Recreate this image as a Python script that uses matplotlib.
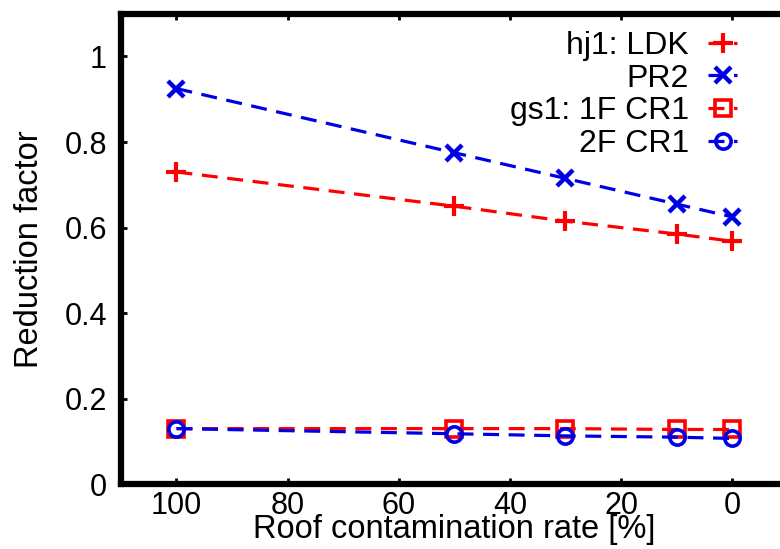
import matplotlib.pyplot as plt

plt.rcParams['font.family'] = ['Liberation Sans', 'DejaVu Sans']

rate = [100, 50, 30, 10, 0]
ldk = [0.730, 0.650, 0.615, 0.585, 0.568]
pr2 = [0.925, 0.775, 0.715, 0.655, 0.625]
cr1_1f = [0.130, 0.130, 0.130, 0.128, 0.128]
cr1_2f = [0.130, 0.118, 0.113, 0.110, 0.107]

labels = ['hj1: LDK', 'PR2', 'gs1: 1F CR1', '2F CR1']

red = '#ff0000'
blue = '#0000e6'
dash = (0, (5, 3))

fig = plt.figure(figsize=(7.8, 5.49), dpi=100)
ax = fig.add_axes([0.155, 0.118, 0.855, 0.857])

ax.plot(rate, ldk, color=red, ls=dash, lw=2.3, marker='+', ms=14, mew=3, label=labels[0])
ax.plot(rate, pr2, color=blue, ls=dash, lw=2.3, marker='x', ms=12, mew=3.2, label=labels[1])
ax.plot(rate, cr1_1f, color=red, ls=dash, lw=2.3, marker='s', ms=11, mew=2.6,
        mfc='none', label=labels[2])
ax.plot(rate, cr1_2f, color=blue, ls=dash, lw=2.3, marker='o', ms=11, mew=2.6,
        mfc='none', label=labels[3])

ax.set_xlim(110, -10)
ax.set_ylim(0, 1.1)
ax.set_xticks([100, 80, 60, 40, 20, 0])
ax.set_yticks([0, 0.2, 0.4, 0.6, 0.8, 1])
ax.set_yticklabels(['0', '0.2', '0.4', '0.6', '0.8', '1'])

for s in ax.spines.values():
    s.set_linewidth(4.5)
ax.tick_params(direction='in', length=4, width=2, top=True, right=True,
               labelsize=22)
ax.tick_params(axis='x', pad=5)
ax.tick_params(axis='y', pad=10)

ax.set_xlabel('Roof contamination rate [%]', fontsize=23.5, labelpad=-5)
ax.set_ylabel('Reduction factor', fontsize=23.5, labelpad=14)

ax.legend(loc='upper right', bbox_to_anchor=(0.948, 0.997), frameon=False,
          markerfirst=False, handlelength=0.9, handletextpad=0.6,
          labelspacing=0.08, borderpad=0, fontsize=23)

fig.savefig('out.png', dpi=100)
